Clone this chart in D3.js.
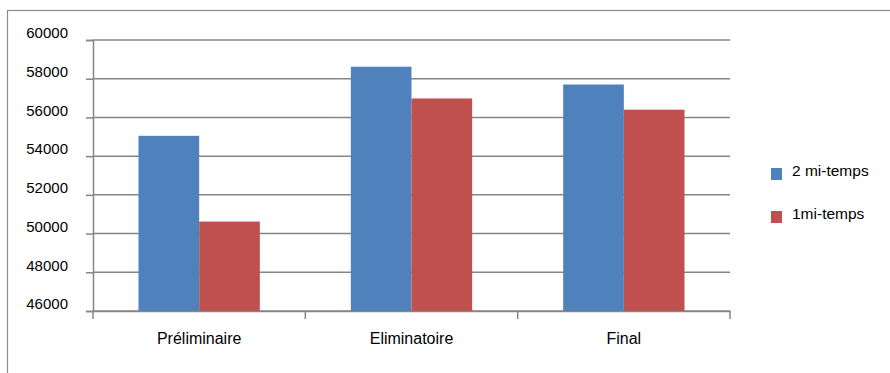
<!DOCTYPE html>
<html>
<head>
<meta charset="utf-8">
<script src="https://cdn.jsdelivr.net/npm/d3@7"></script>
<style>
  body { margin: 0; background: #fff; }
  text { font-family: "Liberation Sans", Arial, sans-serif; fill: #000; }
</style>
</head>
<body>
<svg id="chart" width="890" height="373"></svg>
<script>
var categories = ["Préliminaire", "Eliminatoire", "Final"];
var seriesNames = ["2 mi-temps", "1mi-temps"];
var deuxMiTemps = [55050, 58620, 57700];
var unMiTemps = [50620, 56980, 56400];
var yTicks = [46000, 48000, 50000, 52000, 54000, 56000, 58000, 60000];
var colors = ["#4F81BD", "#C0504D"];

var svg = d3.select("#chart");

// outer chart frame
svg.append("rect")
   .attr("x", 7.5).attr("y", 10.5)
   .attr("width", 900).attr("height", 400)
   .attr("fill", "none")
   .attr("stroke", "#8c8c8c")
   .attr("stroke-width", 1.2);

var plotLeft = 93, plotRight = 730, plotTop = 40, plotBottom = 311;

var x = d3.scaleBand().domain(categories).range([plotLeft, plotRight]);
var x1 = d3.scaleBand().domain(seriesNames)
           .range([0, x.bandwidth()])
           .paddingInner(0).paddingOuter(0.75);
var y = d3.scaleLinear().domain([46000, 60000]).range([plotBottom, plotTop]);

// gridlines
svg.append("g").selectAll("line")
   .data(yTicks)
   .enter().append("line")
   .attr("x1", plotLeft).attr("x2", plotRight)
   .attr("y1", function(d) { return y(d); })
   .attr("y2", function(d) { return y(d); })
   .attr("stroke", "#868686")
   .attr("stroke-width", 1.5);

// y axis
var yAxis = d3.axisLeft(y).tickValues(yTicks).tickSize(7).tickFormat(d3.format("d"));
var gy = svg.append("g").attr("transform", "translate(" + plotLeft + ",0)").call(yAxis);
gy.select(".domain").attr("stroke", "#868686").attr("stroke-width", 1.5);
gy.selectAll(".tick line").attr("stroke", "#868686").attr("stroke-width", 1.5);
gy.selectAll(".tick text")
  .attr("x", -25).attr("dy", "-0.15em")
  .style("font-size", "15px");

// bars
var rows = categories.map(function(c, i) {
  return { cat: c, vals: [deuxMiTemps[i], unMiTemps[i]] };
});

var groups = svg.append("g").selectAll("g")
   .data(rows)
   .enter().append("g")
   .attr("transform", function(d) { return "translate(" + x(d.cat) + ",0)"; });

groups.selectAll("rect")
   .data(function(d) { return d.vals.map(function(v, j) { return { s: seriesNames[j], v: v, j: j }; }); })
   .enter().append("rect")
   .attr("x", function(d) { return x1(d.s); })
   .attr("width", x1.bandwidth())
   .attr("y", function(d) { return y(d.v); })
   .attr("height", function(d) { return plotBottom - y(d.v); })
   .attr("fill", function(d) { return colors[d.j]; });

// x axis
var xAxis = d3.axisBottom(x).tickSize(0).tickPadding(22);
var gx = svg.append("g").attr("transform", "translate(0," + plotBottom + ")").call(xAxis);
gx.select(".domain").attr("stroke", "#868686").attr("stroke-width", 1.5);
gx.selectAll(".tick text").style("font-size", "16px");

var bounds = x.domain().map(function(c) { return x(c); }).concat([plotRight]);
gx.selectAll(".sep")
  .data(bounds)
  .enter().append("line")
  .attr("class", "sep")
  .attr("x1", function(d) { return d; }).attr("x2", function(d) { return d; })
  .attr("y1", 0).attr("y2", 8)
  .attr("stroke", "#868686").attr("stroke-width", 1.5);

// legend
var legend = svg.append("g").selectAll("g")
   .data(seriesNames)
   .enter().append("g")
   .attr("transform", function(d, i) { return "translate(771," + (168 + i * 43) + ")"; });

legend.append("rect")
   .attr("width", 11).attr("height", 12)
   .attr("fill", function(d, i) { return colors[i]; });

legend.append("text")
   .attr("x", 21).attr("y", 6).attr("dy", "0.1em")
   .style("font-size", "15.5px")
   .text(function(d) { return d; });
</script>
</body>
</html>
